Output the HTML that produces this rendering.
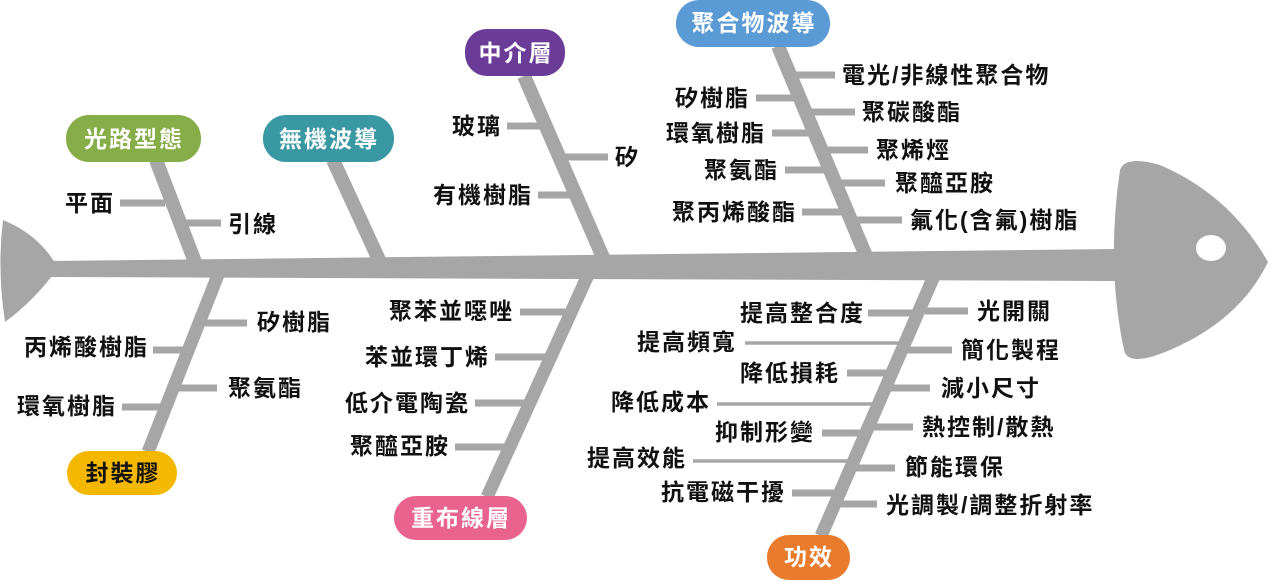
<!DOCTYPE html>
<html><head><meta charset="utf-8"><style>
html,body{margin:0;padding:0;background:#fff;}
svg{display:block;}
text{font-family:"Liberation Sans","Noto Sans CJK TC",sans-serif;font-weight:bold;font-size:23px;letter-spacing:2px;fill:#111;dominant-baseline:central;}
.lb{fill:#fff;font-size:23px;text-anchor:middle;}
.e{text-anchor:end;}
</style></head><body>
<svg width="1270" height="588" viewBox="0 0 1270 588" xmlns="http://www.w3.org/2000/svg">
<g fill="#a6a6a6" stroke="none">
<path d="M3,220 Q40,235 58,268 Q35,300 5,322 Q-3,270 3,220 Z"/>
<polygon points="50,261 1115,249 1115,281 50,277"/>
<path d="M1120,170 Q1125,155 1160,165 Q1230,195 1268,262 Q1240,320 1170,350 Q1128,368 1124,350 Q1106,265 1120,170 Z"/>
</g>
<ellipse cx="1211" cy="248" rx="15" ry="13" fill="#fff"/>
<g stroke="#a6a6a6" fill="none" stroke-linecap="butt">
<line x1="156" y1="160" x2="195" y2="262" stroke-width="14"/>
<line x1="333" y1="160" x2="380" y2="262" stroke-width="14"/>
<line x1="524" y1="76" x2="605" y2="262" stroke-width="14"/>
<line x1="778" y1="46" x2="866" y2="256" stroke-width="14"/>
<line x1="218" y1="275" x2="148" y2="452" stroke-width="13"/>
<line x1="588" y1="275" x2="487" y2="497" stroke-width="13"/>
<line x1="934" y1="276" x2="821" y2="536" stroke-width="13"/>
<g stroke-width="7">
<line x1="120" y1="203" x2="165" y2="203"/>
<line x1="180" y1="223" x2="221" y2="223"/>
<line x1="507" y1="126" x2="547" y2="126"/>
<line x1="565" y1="157" x2="608" y2="157"/>
<line x1="538" y1="195" x2="578" y2="195"/>
<line x1="756" y1="98" x2="800" y2="98"/>
<line x1="772" y1="133" x2="815" y2="133"/>
<line x1="785" y1="170" x2="830" y2="170"/>
<line x1="802" y1="212" x2="848" y2="212"/>
<line x1="790" y1="75" x2="835" y2="75"/>
<line x1="805" y1="112" x2="855" y2="112"/>
<line x1="822" y1="150" x2="868" y2="150"/>
<line x1="840" y1="183" x2="885" y2="183"/>
<line x1="855" y1="220" x2="902" y2="220"/>
<line x1="205" y1="323" x2="247" y2="323"/>
<line x1="153" y1="350" x2="192" y2="350"/>
<line x1="178" y1="388" x2="217" y2="388"/>
<line x1="122" y1="407" x2="168" y2="407"/>
<line x1="520" y1="312" x2="565" y2="312"/>
<line x1="495" y1="357" x2="545" y2="357"/>
<line x1="475" y1="403" x2="525" y2="403"/>
<line x1="455" y1="447" x2="505" y2="447"/>
<line x1="868" y1="313" x2="920" y2="313"/>
<line x1="847" y1="373" x2="895" y2="373"/>
<line x1="822" y1="433" x2="870" y2="433"/>
<line x1="792" y1="493" x2="843" y2="493"/>
<line x1="925" y1="311" x2="968" y2="311"/>
<line x1="905" y1="350" x2="952" y2="350"/>
<line x1="890" y1="388" x2="930" y2="388"/>
<line x1="870" y1="427" x2="913" y2="427"/>
<line x1="852" y1="468" x2="895" y2="468"/>
<line x1="835" y1="504" x2="877" y2="504"/>
</g>
<g stroke-width="3.5">
<line x1="745" y1="343" x2="910" y2="343"/>
<line x1="717" y1="404" x2="885" y2="404"/>
<line x1="693" y1="461" x2="858" y2="461"/>
</g>
</g>
<rect x="66" y="115" width="135" height="47" rx="23" fill="#86ad47"/>
<text class="lb" x="134" y="139">光路型態</text>
<rect x="263" y="115" width="131" height="47" rx="23" fill="#3a98a3"/>
<text class="lb" x="329" y="139">無機波導</text>
<rect x="465" y="29" width="100" height="47" rx="22" fill="#6b3c97"/>
<text class="lb" x="516" y="53">中介層</text>
<rect x="676" y="0" width="154" height="47" rx="23" fill="#5b9bd5"/>
<text class="lb" x="754" y="23">聚合物波導</text>
<rect x="67" y="451" width="110" height="44" rx="22" fill="#f4b800"/>
<text class="lb" x="123" y="473" style="fill:#111">封裝膠</text>
<rect x="394" y="496" width="133" height="44" rx="22" fill="#e8648f"/>
<text class="lb" x="461" y="518">重布線層</text>
<rect x="767" y="535" width="83" height="45" rx="22" fill="#e87b2c"/>
<text class="lb" x="809" y="557">功效</text>
<text class="e" x="115" y="203">平面</text>
<text x="228" y="224">引線</text>
<text class="e" x="502" y="126">玻璃</text>
<text x="615" y="157">矽</text>
<text class="e" x="533" y="195">有機樹脂</text>
<text class="e" x="750" y="98">矽樹脂</text>
<text class="e" x="766" y="133">環氧樹脂</text>
<text class="e" x="779" y="170">聚氨酯</text>
<text class="e" x="797" y="212">聚丙烯酸酯</text>
<text x="842" y="75">電光/非線性聚合物</text>
<text x="862" y="112">聚碳酸酯</text>
<text x="876" y="150">聚烯烴</text>
<text x="895" y="183">聚醯亞胺</text>
<text x="910" y="220">氟化(含氟)樹脂</text>
<text x="257" y="322">矽樹脂</text>
<text class="e" x="149" y="347">丙烯酸樹脂</text>
<text x="228" y="388">聚氨酯</text>
<text class="e" x="117" y="406">環氧樹脂</text>
<text class="e" x="514" y="311">聚苯並噁唑</text>
<text class="e" x="490" y="357">苯並環丁烯</text>
<text class="e" x="470" y="403">低介電陶瓷</text>
<text class="e" x="450" y="446">聚醯亞胺</text>
<text class="e" x="865" y="313">提高整合度</text>
<text class="e" x="737" y="342">提高頻寬</text>
<text class="e" x="840" y="373">降低損耗</text>
<text class="e" x="711" y="402">降低成本</text>
<text class="e" x="815" y="432">抑制形變</text>
<text class="e" x="687" y="458">提高效能</text>
<text class="e" x="786" y="492">抗電磁干擾</text>
<text x="977" y="311">光開關</text>
<text x="961" y="350">簡化製程</text>
<text x="941" y="388">減小尺寸</text>
<text x="922" y="427">熱控制/散熱</text>
<text x="905" y="467">節能環保</text>
<text x="886" y="505">光調製/調整折射率</text>
</svg>
</body></html>
